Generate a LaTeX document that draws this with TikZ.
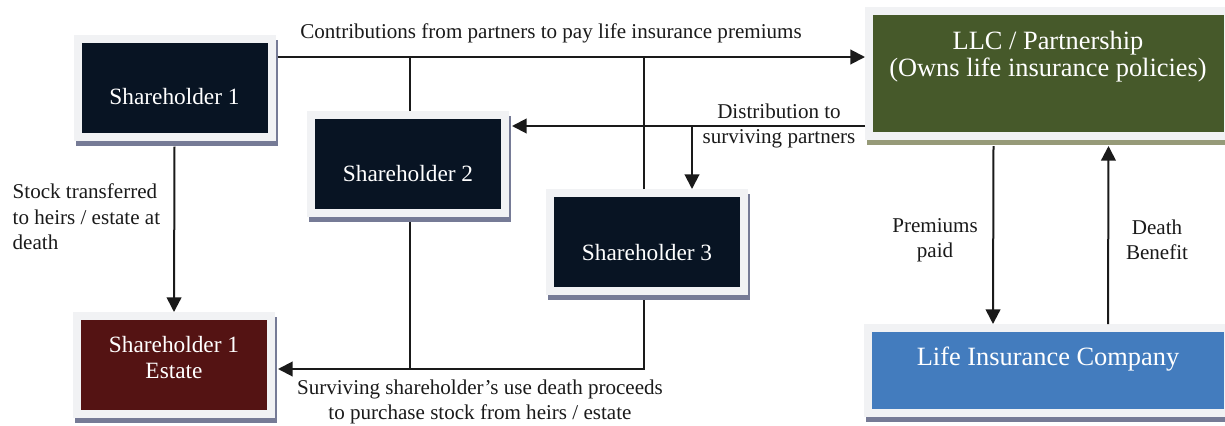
\documentclass[tikz,border=0pt]{standalone}
\usepackage{fontspec}
\setmainfont{Liberation Serif}
\usetikzlibrary{calc,arrows.meta,positioning,shadows}
\definecolor{navyc}{HTML}{081423}
\definecolor{estc}{HTML}{541313}
\definecolor{llcc}{HTML}{46592A}
\definecolor{licc}{HTML}{437CBE}
\definecolor{framec}{HTML}{F1F2F4}
\definecolor{shadc}{HTML}{767B96}
\definecolor{oliveshad}{HTML}{969A78}
\definecolor{linec}{HTML}{1A1A1A}
\tikzset{
  ar/.style={-{Triangle[length=11pt,width=11pt]},line width=1.5pt,linec},
  ln/.style={line width=1.5pt,linec},
  box/.style={draw=framec,line width=6pt,inner sep=0pt,
    general shadow={draw=#1,fill=#1,shadow xshift=1.5pt,shadow yshift=-3.75pt}},
  box/.default=shadc,
  sbox/.style={box,fill=navyc,minimum width=145.5pt,minimum height=73.5pt},
  boxtxt/.style={text=white,align=center,font=\fontsize{17.5}{19.5}\selectfont},
  bigtxt/.style={text=white,align=center,font=\fontsize{19.8}{20}\selectfont},
  lab/.style={text=linec,align=center,font=\fontsize{15.8}{19}\selectfont}
}
\begin{document}
\begin{tikzpicture}[x=0.75pt,y=-0.75pt]
\useasboundingbox (0,0) rectangle (1225,425);
% shareholders and estate
\node[sbox] (sh1) at (174.5,87.5) {};
\node[sbox] (sh2) at (408,164) {};
\node[sbox] (sh3) at (647,242) {};
\node[sbox,fill=estc] (est) at (174,365) {};
\node[boxtxt] (sh1t) at (174.5,97) {Shareholder 1};
\node[boxtxt] (sh2t) at (408,174) {Shareholder 2};
\node[boxtxt] (sh3t) at (647,253) {Shareholder 3};
\node[boxtxt] (estt) at (174,358) {Shareholder 1\\Estate};
% partnership and insurer
\node[box=oliveshad,fill=llcc,minimum width=269.25pt,minimum height=93.75pt] (llc) at (1048.5,73.5) {};
\node[box,fill=licc,minimum width=270pt,minimum height=63.75pt] (lic) at (1048,370.5) {};
\node[bigtxt] (llct) at (1048,56.5) {LLC / Partnership\\(Owns life insurance policies)};
\node[bigtxt] (lict) at (1048,359) {Life Insurance Company};
% buses
\coordinate (cbus) at (0,57);
\coordinate (dbus) at (692,126);
\coordinate (sbus) at (0,369);
\coordinate (v2) at (410,0);
\coordinate (v3) at (644,0);
\draw[ar] ($(sh1.east |- cbus)+(2,0)$) -- (llc.west |- cbus);
\draw[ln] (v2 |- sh2.north) -- (v2 |- cbus);
\draw[ln] (v3 |- sh3.north) -- (v3 |- cbus);
\draw[ar] (llc.west |- dbus) -- ($(sh2.east |- dbus)+(3,0)$);
\draw[ar] (dbus) -- (dbus |- sh3.north);
\draw[ar] ($(sh1.south)+(0,6)$) -- (est.north);
\draw[ln] ($(v2 |- sh2.south)+(0,5)$) -- (v2 |- sbus);
\draw[ar] ($(v3 |- sh3.south)+(0,5)$) |- ($(est.east |- sbus)+(3,0)$);
\draw[ar] ($(llc.south)+(-55,6)$) -- ($(lic.north)+(-55,0)$);
\draw[ar] ($(lic.north)+(60,0)$) -- ($(llc.south)+(60,6)$);
% labels
\node[lab] (contrib) at (551,33) {Contributions from partners to pay life insurance premiums};
\node[lab] (distrib) at (779,126) {Distribution to\\surviving partners};
\node[lab,anchor=west,align=left] (stock) at (8,217) {Stock transferred\\to heirs / estate at\\death};
\node[lab] (prem) at (935,240) {Premiums\\paid};
\node[lab] (death) at (1157,240) {Death\\Benefit};
\node[lab] (surv) at (480,402) {Surviving shareholder's use death proceeds\\to purchase stock from heirs / estate};
\end{tikzpicture}
\end{document}
